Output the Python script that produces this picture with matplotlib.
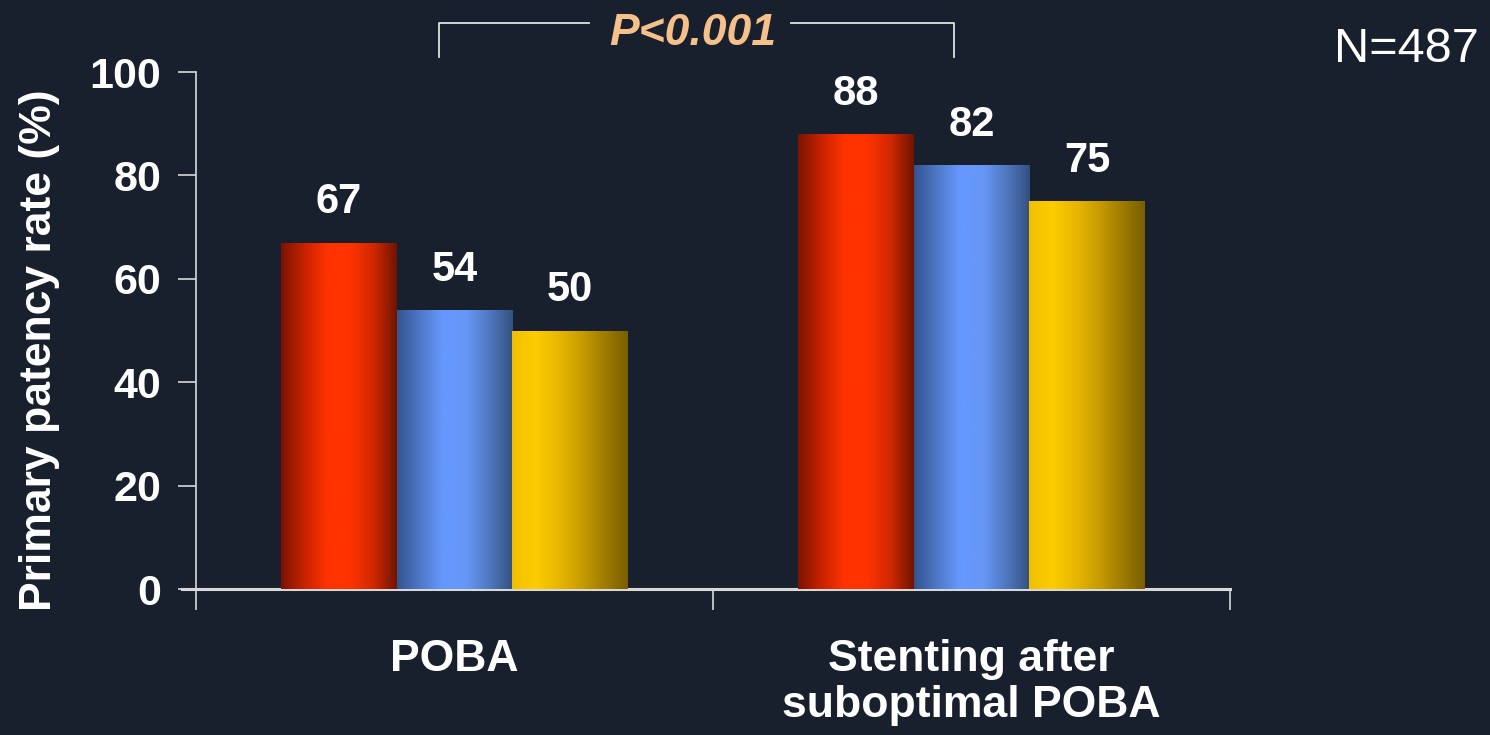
import numpy as np
import matplotlib
matplotlib.use("Agg")
import matplotlib.pyplot as plt
from matplotlib.colors import LinearSegmentedColormap

categories = ["POBA", "Stenting after\nsuboptimal POBA"]
series_a = [67, 88]   # red
series_b = [54, 82]   # blue
series_c = [50, 75]   # yellow
yticks = [0, 20, 40, 60, 80, 100]

BG = "#19202d"
plt.rcParams['font.family'] = ['Liberation Sans', 'DejaVu Sans']

fig = plt.figure(figsize=(14.9, 7.35), dpi=100, facecolor=BG)
ax = fig.add_axes([0.1315, 0.1986, 0.694, 0.7034])
ax.set_facecolor(BG)

x = np.arange(len(categories))
w = 0.224
grads = [
    ["#7a1400", "#c82200", "#ff3300", "#ff3300", "#d02800", "#701400"],
    ["#34548f", "#4f78c8", "#6699ff", "#6697f5", "#5078c0", "#34507f"],
    ["#f0c000", "#ffcc00", "#e8b800", "#c89c00", "#a07c00", "#7a5e00"],
]
for vals, off, g in zip([series_a, series_b, series_c], [-w, 0, w], grads):
    bars = ax.bar(x + off, vals, width=w, color=g[2], linewidth=0, zorder=2)
    cmap = LinearSegmentedColormap.from_list("g", g)
    grad = np.linspace(0, 1, 256).reshape(1, -1)
    for b, v in zip(bars, vals):
        x0, y0 = b.get_x(), b.get_y()
        im = ax.imshow(grad, cmap=cmap, aspect="auto", interpolation="bicubic",
                       extent=(x0, x0 + b.get_width(), y0, y0 + b.get_height()),
                       zorder=3)
        im.set_clip_path(b)
        ax.annotate(f"{v}", (b.get_x() + b.get_width() / 2, v), xytext=(0, 21),
                    textcoords="offset points", ha="center", va="baseline",
                    color="white", fontsize=30, fontweight="bold")

ax.set_xlim(-0.5, 1.5)
ax.set_ylim(0, 100)
ax.set_yticks(yticks)
ax.set_yticklabels([str(t) for t in yticks], fontsize=31, fontweight="bold", color="white")
ax.tick_params(axis="y", length=13, width=1.2, color="#d8d8d8", pad=12)
ax.set_xticks(x)
ax.set_xticklabels(categories, fontsize=32, fontweight="bold", color="white", linespacing=1.15)
ax.tick_params(axis="x", which="major", length=0, pad=36)
ax.set_xticks([-0.5, 0.5, 1.5], minor=True)
ax.tick_params(axis="x", which="minor", length=15, width=1.2, color="#d8d8d8", direction="out")
for lab in ax.get_xticklabels():
    lab.set_verticalalignment("top")

for s in ["top", "right"]:
    ax.spines[s].set_visible(False)
ax.spines["left"].set_color("#d8d8d8")
ax.spines["left"].set_linewidth(1.2)
ax.spines["bottom"].set_color("#d8d8d8")
ax.spines["bottom"].set_linewidth(2.2)
ax.spines["bottom"].set_bounds(-0.527, 1.5)

ax.set_ylabel("Primary patency rate (%)", fontsize=32, fontweight="bold", color="white", va="center")
ax.yaxis.set_label_coords(-0.151, 0.462)

# significance bracket
trans = ax.get_xaxis_transform()
yl, yh = 1.095, 1.03
xl, xr = -0.03, 0.967
ax.plot([xl, xl, 0.26], [yh, yl, yl], color="#e0e0e0", lw=1.3, transform=trans, clip_on=False)
ax.plot([0.65, xr, xr], [yl, yl, yh], color="#e0e0e0", lw=1.3, transform=trans, clip_on=False)
ax.text(0.46, 1.075, "P<0.001", transform=trans, ha="center", va="center",
        fontsize=32, fontweight="bold", fontstyle="italic", color="#f5c08a")

fig.text(0.944, 0.932, "N=487", ha="center", va="center", fontsize=35, color="white")

fig.savefig("out.png", dpi=100, facecolor=BG)
